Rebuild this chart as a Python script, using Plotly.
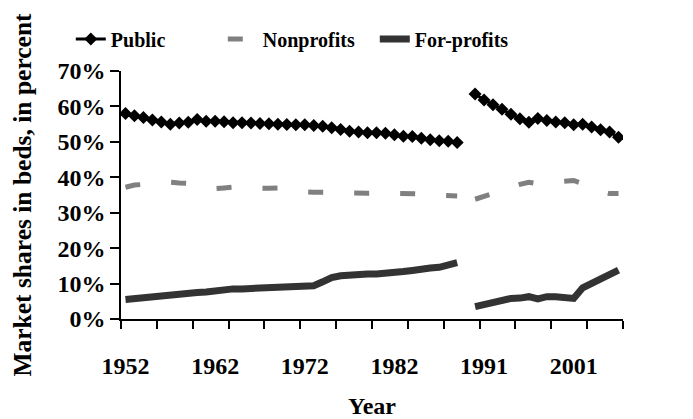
import plotly.graph_objects as go

# Categories: 1952-1989, one blank category (series break), 1990-2006
years = [str(y) for y in range(1952, 1990)] + [""] + [str(y) for y in range(1990, 2007)]
tick_years = ["1952", "1962", "1972", "1982", "1991", "2001"]

public = [58.0, 57.4, 56.9, 56.2, 55.6, 55.0, 55.3, 55.5, 56.3, 55.8,
          55.8, 55.7, 55.4, 55.4, 55.3, 55.2, 55.1, 55.0, 54.9, 54.8,
          54.8, 54.6, 54.4, 54.0, 53.5, 53.0, 52.8, 52.6, 52.6, 52.4,
          52.0, 51.6, 51.5, 51.0, 50.6, 50.3, 50.2, 49.8,
          None,
          63.5, 61.8, 60.5, 59.2, 57.8, 56.5, 55.5, 56.6, 56.0, 55.6,
          55.4, 54.8, 55.0, 54.2, 53.4, 52.8, 51.3]

nonprofits = [37.2, 37.8, 38.0, 38.2, 38.4, 38.6, 38.4, 38.3, 37.8, 37.2,
              36.8, 37.0, 37.2, 37.0, 36.9, 36.7, 36.9, 37.0, 36.6, 36.2,
              35.9, 35.8, 35.7, 35.6, 35.5, 35.5, 35.4, 35.5, 35.6, 35.6,
              35.6, 35.6, 35.5, 35.3, 35.1, 35.0, 34.9, 34.7,
              None,
              33.8, 34.5, 35.4, 36.3, 37.2, 38.0, 38.6, 38.2, 38.5, 38.8,
              39.1, 39.1, 38.2, 37.0, 36.0, 35.4, 35.4]

forprofits = [5.5, 5.8, 5.9, 6.0, 6.4, 6.8, 7.2, 7.5, 7.5, 7.6,
              8.0, 8.3, 8.5, 8.5, 8.6, 9.0, 9.0, 9.0, 9.0, 9.0,
              9.1, 9.4, 10.5, 11.7, 12.2, 12.5, 12.7, 12.7, 12.7, 12.8,
              13.2, 13.4, 13.7, 14.2, 14.4, 14.6, 15.2, 15.9,
              None,
              3.5, 4.1, 4.6, 5.1, 5.8, 5.9, 6.3, 5.7, 6.3, 6.3,
              6.2, 5.8, 8.8, 10.0, 11.5, 12.7, 13.8]

x = list(range(len(years)))
tickvals = [i for i, y in enumerate(years) if y in tick_years]
ticktext = [years[i] for i in tickvals]

FONT = "Liberation Serif"

fig = go.Figure()
fig.add_trace(go.Scatter(
    x=x, y=public, name="Public", mode="lines+markers",
    line=dict(color="black", width=3),
    marker=dict(symbol="diamond", size=10, color="black"),
    connectgaps=False))
fig.add_trace(go.Scatter(
    x=x, y=nonprofits, name="Nonprofits", mode="lines",
    line=dict(color="#808080", width=5, dash="15px,31px"),
    connectgaps=False))
fig.add_trace(go.Scatter(
    x=x, y=forprofits, name="For-profits", mode="lines",
    line=dict(color="#333333", width=7),
    connectgaps=False))

# page body adds an 8px offset; the figure is sized to fit the window
fig.update_layout(
    width=685, height=411,
    margin=dict(l=113, r=70, t=62, b=100),
    paper_bgcolor="white", plot_bgcolor="white",
    font=dict(family=FONT, color="black", size=22, weight="bold"),
    showlegend=True,
    legend=dict(orientation="h", x=-0.10, y=1.125, xanchor="left", yanchor="middle",
                entrywidth=107,
                font=dict(family=FONT, size=20, weight="bold"),
                bgcolor="rgba(0,0,0,0)"),
    xaxis=dict(
        automargin=False,
        range=[-0.5, len(years) - 0.5],
        tickmode="array", tickvals=tickvals, ticktext=ticktext,
        ticks="", showgrid=False, zeroline=False,
        showline=True, linecolor="black", linewidth=1.5,
        ticklabelstandoff=24,
        tickfont=dict(family=FONT, size=24, weight="bold"),
        minor=dict(ticks="outside", tick0=-0.5, dtick=4, ticklen=8,
                   tickcolor="black", tickwidth=1.5, showgrid=False),
        title=dict(text="Year", font=dict(family=FONT, size=24, weight="bold"),
                   standoff=22),
    ),
    yaxis=dict(
        automargin=False,
        range=[0, 70], dtick=10, ticksuffix="%",
        ticks="outside", ticklen=9, tickcolor="black", tickwidth=1.5,
        showgrid=False, zeroline=False,
        showline=True, linecolor="black", linewidth=1.5,
        tickfont=dict(family=FONT, size=24, weight="bold"),
        title=dict(text="Market shares in beds, in percent",
                   font=dict(family=FONT, size=25.5, weight="bold"), standoff=33),
    ),
)

fig.write_html("out.html")
